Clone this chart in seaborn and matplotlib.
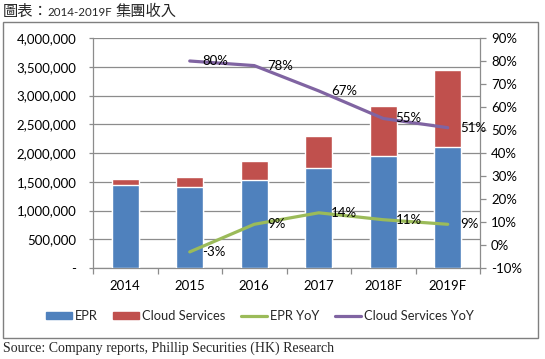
import matplotlib
matplotlib.use("Agg")
import matplotlib.pyplot as plt
import seaborn as sns
import pandas as pd
from matplotlib.patches import Patch, Rectangle
from matplotlib.lines import Line2D
from matplotlib.ticker import FuncFormatter, MultipleLocator

years = ["2014", "2015", "2016", "2017", "2018F", "2019F"]
epr = [1450000, 1410000, 1530000, 1740000, 1940000, 2110000]
cloud = [100000, 180000, 330000, 560000, 870000, 1330000]
epr_yoy = [-3, 9, 14, 11, 9]
cloud_yoy = [80, 78, 67, 55, 51]
yoy_years = years[1:]

BLUE = "#4F81BD"
RED = "#C0504D"
GREEN = "#9BBB59"
PURPLE = "#8064A2"
GRID = "#8c8c8c"

sns.set_theme(style="white")
plt.rcParams['font.family'] = ['Lato', 'DejaVu Sans']

W, H = 545, 359
fig = plt.figure(figsize=(W / 100, H / 100), dpi=100)

def fx(px):
    return px / W

def fy(py):
    return 1 - py / H

ax = fig.add_axes([fx(93), fy(268), fx(480) - fx(93), fy(38) - fy(268)])

df = pd.DataFrame({"year": years, "epr": epr, "cloud": cloud})
df["total"] = df["epr"] + df["cloud"]

sns.barplot(data=df, x="year", y="total", color=RED, saturation=1, width=0.42, ax=ax, zorder=2)
sns.barplot(data=df, x="year", y="epr", color=BLUE, saturation=1, width=0.42, ax=ax, zorder=3)

ax.set_ylim(0, 4000000)
ax.set_xlim(-0.5, 5.5)
ax.yaxis.set_major_locator(MultipleLocator(500000))
ax.yaxis.set_major_formatter(FuncFormatter(lambda v, p: "-" if v == 0 else f"{int(v):,}"))
ax.set_xlabel("")
ax.set_ylabel("")
ax.grid(axis="y", color=GRID, linewidth=0.9)
ax.grid(axis="x", visible=False)
ax.set_axisbelow(True)
for s in ["top", "right"]:
    ax.spines[s].set_visible(False)
for s in ["left", "bottom"]:
    ax.spines[s].set_color(GRID)
    ax.spines[s].set_linewidth(0.9)
ax.tick_params(axis="y", which="major", left=True, length=3, width=0.9, color=GRID,
               pad=9, labelsize=9.5, labelcolor="black")
ax.set_xticks(range(len(years)))
ax.set_xticklabels(years)
ax.set_xticks([i - 0.5 for i in range(len(years) + 1)], minor=True)
ax.tick_params(axis="x", which="major", length=0, pad=9, labelsize=9.5, labelcolor="black")
ax.tick_params(axis="x", which="minor", bottom=True, length=4, width=0.9, color=GRID)

ax2 = ax.twinx()
line_df = pd.DataFrame({"x": [years.index(y) for y in yoy_years],
                        "epr_yoy": epr_yoy, "cloud_yoy": cloud_yoy})
sns.lineplot(data=line_df, x="x", y="epr_yoy", color=GREEN, linewidth=2.3, ax=ax2)
sns.lineplot(data=line_df, x="x", y="cloud_yoy", color=PURPLE, linewidth=2.3, ax=ax2)
ax2.set_xlim(-0.5, 5.5)
ax2.set_ylim(-10, 90)
ax2.yaxis.set_major_locator(MultipleLocator(10))
ax2.yaxis.set_major_formatter(FuncFormatter(lambda v, p: f"{int(round(v))}%"))
ax2.set_ylabel("")
ax2.set_xlabel("")
ax2.grid(False)
for s in ["top", "left", "bottom"]:
    ax2.spines[s].set_visible(False)
ax2.spines["right"].set_color(GRID)
ax2.spines["right"].set_linewidth(0.9)
ax2.tick_params(axis="y", right=True, length=4, width=0.9, color=GRID, pad=4,
                labelsize=9.5, labelcolor="black")

for xi, v in zip(line_df["x"], epr_yoy):
    ax2.annotate(f"{v}%", (xi, v), xytext=(9, 0), textcoords="offset points",
                 ha="left", va="center", fontsize=9.5, color="black")
for xi, v in zip(line_df["x"], cloud_yoy):
    ax2.annotate(f"{v}%", (xi, v), xytext=(9, 0), textcoords="offset points",
                 ha="left", va="center", fontsize=9.5, color="black")

handles = [
    Patch(facecolor=BLUE, edgecolor=BLUE, label="EPR"),
    Patch(facecolor=RED, edgecolor=RED, label="Cloud Services"),
    Line2D([0], [0], color=GREEN, linewidth=2.3, label="EPR YoY"),
    Line2D([0], [0], color=PURPLE, linewidth=2.3, label="Cloud Services YoY"),
]
fig.legend(handles=handles, loc="center", bbox_to_anchor=(fx(260), fy(316)), ncol=4,
           frameon=False, fontsize=9.3, handlelength=2.0, handleheight=0.45,
           handletextpad=0.25, columnspacing=1.2)

fig.patches.append(Rectangle((fx(3), fy(338)), fx(538) - fx(3), fy(22) - fy(338),
                             transform=fig.transFigure, fill=False,
                             edgecolor="#7f7f7f", linewidth=1))

fig.text(fx(3), fy(11), "圖表：", fontsize=11, family=["Noto Sans CJK TC"],
         ha="left", va="center")
fig.text(fx(47), fy(12), "2014-2019F", fontsize=8.3, family=["Lato"],
         ha="left", va="center")
fig.text(fx(116), fy(11), "集團收入", fontsize=11, family=["Noto Sans CJK TC"],
         ha="left", va="center")
fig.text(fx(3), fy(348), "Source: Company reports, Phillip Securities (HK) Research",
         fontsize=10, family=["Liberation Serif"], ha="left", va="center")

fig.savefig("out.png", dpi=100)
